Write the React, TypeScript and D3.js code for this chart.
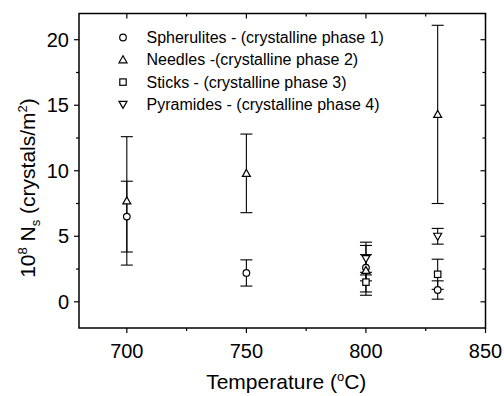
import React from "react";
import * as d3 from "d3";

const temps = [700, 750, 800, 830];
const spherulites = [6.5, 2.2, 2.6, 0.9];
const spherulitesErr = [2.7, 1.0, 1.0, 0.7];
const needles = [7.7, 9.8, 2.4, 14.3];
const needlesErr = [4.9, 3.0, 1.9, 6.8];
const sticksT = [800, 830];
const sticks = [1.5, 2.1];
const sticksErr = [0.75, 1.15];
const pyramidesT = [800, 830];
const pyramides = [3.3, 5.0];
const pyramidesErr = [1.25, 0.6];
const xTicks = [700, 750, 800, 850];
const yTicks = [0, 5, 10, 15, 20];
const legendLabels = [
  "Spherulites - (crystalline phase 1)",
  "Needles -(crystalline phase 2)",
  "Sticks - (crystalline phase 3)",
  "Pyramides - (crystalline phase 4)",
];

const W = 504, H = 396;
const L = 79, R = 485.5, T = 13.5, B = 328;
const FONT = "'Liberation Sans', Arial, sans-serif";

type Shape = "circle" | "up" | "square" | "down";

function Marker({ x, y, shape }: { x: number; y: number; shape: Shape }) {
  const common = { fill: "white", stroke: "black", strokeWidth: 1.2 };
  if (shape === "circle") return <circle cx={x} cy={y} r={3.3} {...common} />;
  if (shape === "square") return <rect x={x - 3.2} y={y - 3.2} width={6.4} height={6.4} {...common} />;
  const s = 4;
  const pts =
    shape === "up"
      ? [[x, y - s], [x - s, y + s * 0.75], [x + s, y + s * 0.75]]
      : [[x, y + s], [x - s, y - s * 0.75], [x + s, y - s * 0.75]];
  return <polygon points={pts.map((p) => p.join(",")).join(" ")} {...common} />;
}

export default function App() {
  const x = d3.scaleLinear().domain([680, 850]).range([L, R]);
  const y = d3.scaleLinear().domain([-2, 22]).range([B, T]);

  const series: { xs: number[]; ys: number[]; es: number[]; shape: Shape }[] = [
    { xs: temps, ys: spherulites, es: spherulitesErr, shape: "circle" },
    { xs: temps, ys: needles, es: needlesErr, shape: "up" },
    { xs: sticksT, ys: sticks, es: sticksErr, shape: "square" },
    { xs: pyramidesT, ys: pyramides, es: pyramidesErr, shape: "down" },
  ];
  const shapes: Shape[] = ["circle", "up", "square", "down"];
  const cap = 6;

  const xMinor = d3.range(700, 851, 25);
  const yMinor = d3.range(-2.5, 22.1, 2.5).filter((v) => v >= -2 && v <= 22);

  return (
    <svg width={W} height={H} style={{ position: "absolute", left: 0, top: 0, background: "white" }}>
      <rect width={W} height={H} fill="white" />
      {/* error bars */}
      {series.map((s, si) =>
        s.xs.map((xv, i) => {
          const px = x(xv);
          const lo = y(s.ys[i] - s.es[i]);
          const hi = y(s.ys[i] + s.es[i]);
          return (
            <g key={`e${si}-${i}`} stroke="black" strokeWidth={1.1}>
              <line x1={px} x2={px} y1={lo} y2={hi} />
              <line x1={px - cap} x2={px + cap} y1={lo} y2={lo} />
              <line x1={px - cap} x2={px + cap} y1={hi} y2={hi} />
            </g>
          );
        })
      )}
      {series.map((s, si) =>
        s.xs.map((xv, i) => <Marker key={`m${si}-${i}`} x={x(xv)} y={y(s.ys[i])} shape={s.shape} />)
      )}
      {/* frame */}
      <rect x={L} y={T} width={R - L} height={B - T} fill="none" stroke="black" strokeWidth={1.5} />
      {/* ticks */}
      <g stroke="black" strokeWidth={1.2}>
        {xMinor.map((v) => {
          const major = v % 50 === 0;
          const len = major ? 5 : 3;
          return (
            <g key={`xt${v}`}>
              <line x1={x(v)} x2={x(v)} y1={B} y2={B + len} />
              <line x1={x(v)} x2={x(v)} y1={T} y2={T + len} />
            </g>
          );
        })}
        {yMinor.map((v) => {
          const major = v % 5 === 0;
          const len = major ? 5 : 3;
          return (
            <g key={`yt${v}`}>
              <line x1={L - len} x2={L} y1={y(v)} y2={y(v)} />
              <line x1={R - len} x2={R} y1={y(v)} y2={y(v)} />
            </g>
          );
        })}
      </g>
      {/* tick labels */}
      <g fontFamily={FONT} fontSize={20} fill="black">
        {xTicks.map((v) => (
          <text key={`xl${v}`} x={x(v)} y={358} textAnchor="middle">
            {v}
          </text>
        ))}
        {yTicks.map((v) => (
          <text key={`yl${v}`} x={69} y={y(v) + 7} textAnchor="end">
            {v}
          </text>
        ))}
      </g>
      {/* axis titles */}
      <text x={(L + R) / 2 + 4} y={389} textAnchor="middle" fontFamily={FONT} fontSize={21}>
        Temperature (
        <tspan fontSize={13} dy={-8}>o</tspan>
        <tspan dy={8}>C)</tspan>
      </text>
      <text
        transform={`translate(35, 188) rotate(-90)`}
        textAnchor="middle"
        fontFamily={FONT}
        fontSize={21}
      >
        10
        <tspan fontSize={13} dy={-8}>8</tspan>
        <tspan dy={8}> N</tspan>
        <tspan fontSize={13} dy={5}>s</tspan>
        <tspan dy={-5}> (crystals/m</tspan>
        <tspan fontSize={13} dy={-8}>2</tspan>
        <tspan dy={8}>)</tspan>
      </text>
      {/* legend */}
      {legendLabels.map((lab, i) => {
        const ly = 37.5 + i * 22.3;
        return (
          <g key={`lg${i}`}>
            <Marker x={123} y={ly} shape={shapes[i]} />
            <text x={146.5} y={ly + 5.5} fontFamily={FONT} fontSize={16}>
              {lab}
            </text>
          </g>
        );
      })}
    </svg>
  );
}
